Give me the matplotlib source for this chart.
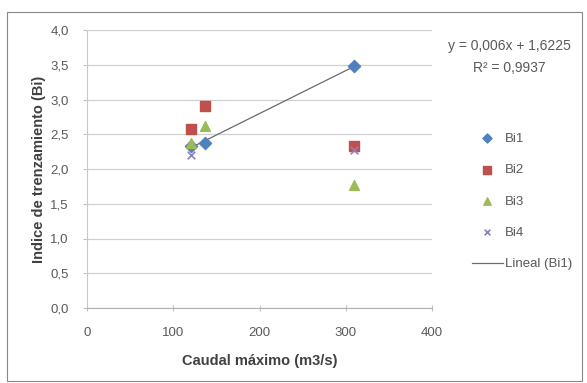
import numpy as np
import matplotlib
matplotlib.use("Agg")
import matplotlib.pyplot as plt
from matplotlib.ticker import FuncFormatter, MultipleLocator
from matplotlib.patches import Rectangle

plt.rcParams['font.family'] = ['Liberation Sans', 'DejaVu Sans']

# Data
caudal = [120, 137, 310]
bi1 = [2.33, 2.38, 3.48]
bi2 = [2.57, 2.91, 2.33]
bi3 = [2.37, 2.62, 1.77]
caudal_bi4 = [120, 310]
bi4 = [2.20, 2.27]

eq_text = "y = 0,006x + 1,6225"
r2_text = "R² = 0,9937"

# Colors
C_BI1 = '#4F81BD'
C_BI2 = '#C0504D'
C_BI3 = '#9BBB59'
C_BI4 = '#8C7FC0'
TXT = '#595959'

fig = plt.figure(figsize=(5.87, 3.83), dpi=100)
W, H = 587, 383
fig.patches.append(Rectangle((7 / W, 1 - 381 / H), 575 / W, 369 / H,
                             transform=fig.transFigure, fill=False,
                             edgecolor='#888888', linewidth=0.8))

ax = fig.add_axes([87 / W, 1 - 308 / H, 345 / W, 278 / H])

ax.scatter(caudal, bi1, marker='D', s=38, color=C_BI1, label='Bi1', zorder=3)
ax.scatter(caudal, bi2, marker='s', s=60, color=C_BI2, label='Bi2', zorder=4)
ax.scatter(caudal, bi3, marker='^', s=50, color=C_BI3, label='Bi3', zorder=5)
ax.scatter(caudal_bi4, bi4, marker='x', s=30, color=C_BI4, linewidths=1.2,
           label='Bi4', zorder=6)

# linear trend of Bi1
coef = np.polyfit(caudal, bi1, 1)
xs = np.array([min(caudal), max(caudal)])
ax.plot(xs, np.polyval(coef, xs), color='#6b6b6b', linewidth=0.9,
        label='Lineal (Bi1)', zorder=2)

ax.set_xlim(0, 400)
ax.set_ylim(0, 4.0)
ax.xaxis.set_major_locator(MultipleLocator(100))
ax.yaxis.set_major_locator(MultipleLocator(0.5))
ax.yaxis.set_major_formatter(FuncFormatter(lambda v, p: f"{v:.1f}".replace('.', ',')))
ax.xaxis.set_major_formatter(FuncFormatter(lambda v, p: f"{v:.0f}"))

ax.grid(axis='y', color='#d0d0d0', linewidth=0.9)
ax.set_axisbelow(True)
for s in ['top', 'right']:
    ax.spines[s].set_visible(False)
ax.spines['left'].set_color('#c8c8c8')
ax.spines['bottom'].set_color('#b0b0b0')
ax.tick_params(axis='both', colors='#c0c0c0', labelcolor=TXT, labelsize=9.5,
               length=3, width=0.8)
ax.tick_params(axis='y', pad=10)
ax.tick_params(axis='x', direction='inout', length=5, pad=11)

ax.set_xlabel('Caudal máximo (m3/s)', fontsize=10.5, fontweight='bold',
              color='#404040', labelpad=11)
ax.set_ylabel('Indice de trenzamiento (Bi)', fontsize=10.5, fontweight='bold',
              color='#404040', labelpad=3)

fig.text(509 / W, 1 - 46 / H, eq_text, ha='center', va='center', fontsize=10, color=TXT)
fig.text(509 / W, 1 - 68 / H, r2_text, ha='center', va='center', fontsize=10, color=TXT)

leg = ax.legend(loc='upper left', bbox_to_anchor=(465 / W, 1 - 126 / H),
                bbox_transform=fig.transFigure, frameon=False, fontsize=9.5,
                labelspacing=1.45, handlelength=2.35, handletextpad=0.2,
                borderpad=0, markerscale=0.75)
for t in leg.get_texts():
    t.set_color(TXT)

fig.savefig('out.png', dpi=100)
